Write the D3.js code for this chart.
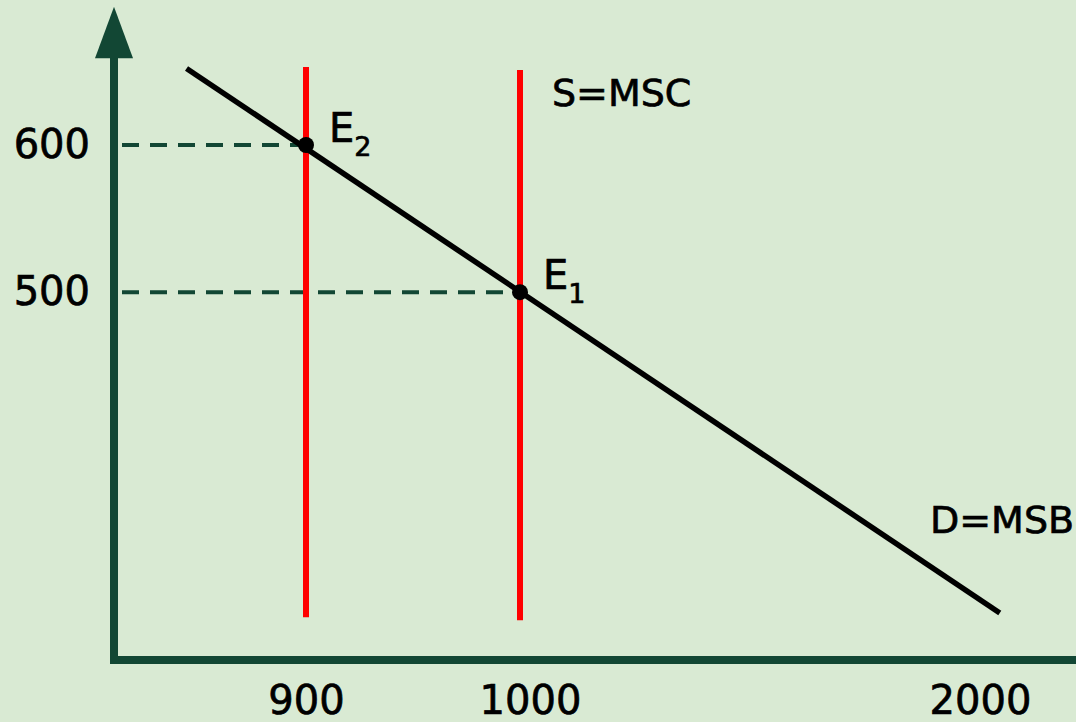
<!DOCTYPE html>
<html>
<head>
<meta charset="utf-8">
<script src="https://cdn.jsdelivr.net/npm/d3@7"></script>
<style>
  body { margin: 0; background: #d9ead3; }
  svg { display: block; }
  text { font-family: "DejaVu Sans", sans-serif; fill: #000; stroke: #000; stroke-width: 0.7px; }
</style>
</head>
<body>
<div id="chart"></div>
<script>
// values
const quantityTicks = [900, 1000, 2000];
const priceTicks = [500, 600];
// demand curve D=MSB (quantity, price) at its two ends
const demandQ = [844, 2043];
const demandP = [652, 282];
// vertical supply lines S=MSC
const supplyQ = [900, 1000];
const supplyTop = [653, 651];
const supplyBottom = [279, 277];
// equilibrium points
const eqNames = ["2", "1"];
const eqQ = [900, 1000];
const eqP = [600, 500];

const width = 1076, height = 722;
const axisColor = "#124734";

// the quantity axis is not to scale, so it is piecewise
let x = d3.scaleLinear()
  .domain([810, 900, 1000, 2000])
  .range([114, 306, 520, 980]);

let y = d3.scaleLinear()
  .domain([250, 600])
  .range([660, 145]);

let svg = d3.select("#chart")
  .append("svg")
  .attr("width", width)
  .attr("height", height);

svg.append("rect")
  .attr("width", width)
  .attr("height", height)
  .attr("fill", "#d9ead3");

// dashed guides from the price axis to each equilibrium
svg.selectAll(".guide")
  .data(eqQ)
  .enter()
  .append("line")
  .attr("class", "guide")
  .attr("x1", x(810) + 8)
  .attr("x2", d => x(d))
  .attr("y1", (d, i) => y(eqP[i]))
  .attr("y2", (d, i) => y(eqP[i]))
  .attr("stroke", axisColor)
  .attr("stroke-width", 4)
  .attr("stroke-dasharray", "17,11");

// supply lines
svg.selectAll(".supply")
  .data(supplyQ)
  .enter()
  .append("line")
  .attr("class", "supply")
  .attr("x1", d => x(d))
  .attr("x2", d => x(d))
  .attr("y1", (d, i) => y(supplyTop[i]))
  .attr("y2", (d, i) => y(supplyBottom[i]))
  .attr("stroke", "#ff0000")
  .attr("stroke-width", 6);

// demand line
let line = d3.line()
  .x(d => x(d[0]))
  .y(d => y(d[1]));

svg.append("path")
  .datum(d3.zip(demandQ, demandP))
  .attr("d", line)
  .attr("fill", "none")
  .attr("stroke", "#000")
  .attr("stroke-width", 5.5);

// equilibrium dots and labels
svg.selectAll(".eq")
  .data(eqQ)
  .enter()
  .append("circle")
  .attr("class", "eq")
  .attr("cx", d => x(d))
  .attr("cy", (d, i) => y(eqP[i]))
  .attr("r", 8)
  .attr("fill", "#000");

let eqLabel = svg.selectAll(".eqlabel")
  .data(eqQ)
  .enter()
  .append("text")
  .attr("class", "eqlabel")
  .attr("x", d => x(d) + 23)
  .attr("y", (d, i) => y(eqP[i]) - 3)
  .attr("font-size", 40);

eqLabel.append("tspan").text("E");
eqLabel.append("tspan")
  .attr("font-size", 27)
  .attr("dy", 14)
  .text((d, i) => eqNames[i]);

// axes
let xAxis = d3.axisBottom(x).tickValues(quantityTicks).tickSize(0).tickPadding(26).tickFormat(d3.format("d"));
let yAxis = d3.axisLeft(y).tickValues(priceTicks).tickSize(0).tickPadding(24).tickFormat(d3.format("d"));

let gx = svg.append("g")
  .attr("transform", "translate(0," + y(250) + ")")
  .call(xAxis);
let gy = svg.append("g")
  .attr("transform", "translate(" + x(810) + ",0)")
  .call(yAxis);

[gx, gy].forEach(g => {
  g.select(".domain").remove();
  g.selectAll("text")
    .attr("font-family", "DejaVu Sans")
    .attr("font-size", 40)
    .attr("fill", "#000");
});
// the "1000" label sits a little right of its line in the picture
gx.selectAll("text").filter(d => d === 1000).attr("dx", 10);

// axis lines with the arrow on the price axis
svg.append("line")
  .attr("x1", x(810))
  .attr("x2", width)
  .attr("y1", y(250))
  .attr("y2", y(250))
  .attr("stroke", axisColor)
  .attr("stroke-width", 8);

svg.append("line")
  .attr("x1", x(810))
  .attr("x2", x(810))
  .attr("y1", y(250) + 4)
  .attr("y2", y(680))
  .attr("stroke", axisColor)
  .attr("stroke-width", 8);

svg.append("path")
  .attr("d", "M" + x(810) + "," + y(694) +
    "L" + (x(810) - 19) + "," + y(659) +
    "L" + (x(810) + 19) + "," + y(659) + "Z")
  .attr("fill", axisColor);

// curve labels
svg.append("text")
  .attr("x", x(1000) + 32)
  .attr("y", 106)
  .attr("font-size", 38)
  .text("S=MSC");

svg.append("text")
  .attr("x", 930)
  .attr("y", 533)
  .attr("font-size", 38)
  .text("D=MSB");
</script>
</body>
</html>
